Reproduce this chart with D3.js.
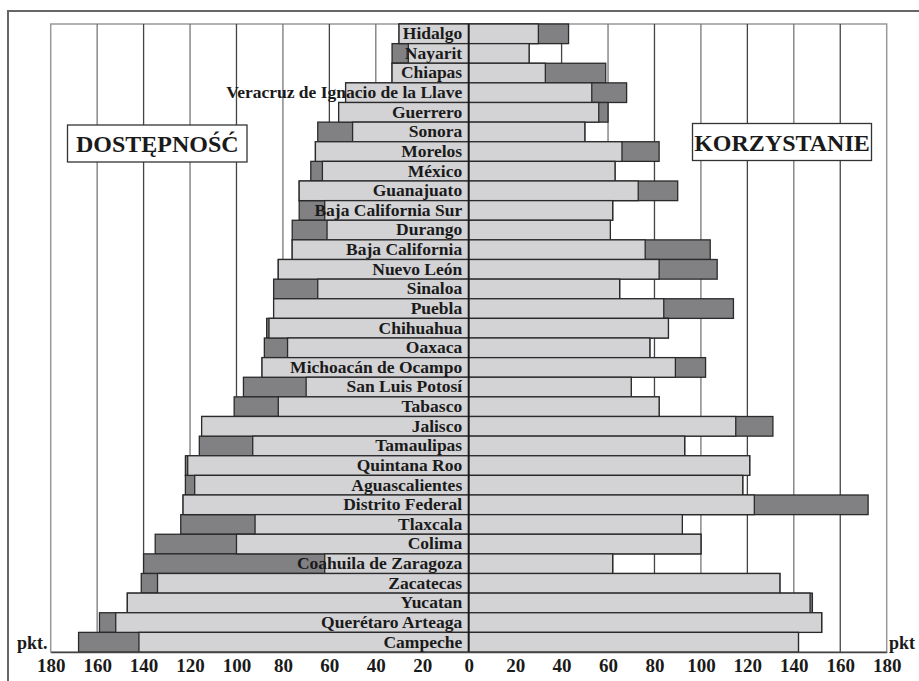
<!DOCTYPE html>
<html>
<head>
<meta charset="utf-8">
<script src="https://cdnjs.cloudflare.com/ajax/libs/d3/7.8.5/d3.min.js"></script>
<style>
    body { margin: 0; background: #fff; }
    text { font-family: "Liberation Serif", "Times New Roman", serif; font-weight: bold; fill: #1a1a1a; }
</style>
</head>
<body>
<div id="chart-area"></div>
<script>
// States, top to bottom
var states = ["Hidalgo", "Nayarit", "Chiapas", "Veracruz de Ignacio de la Llave", "Guerrero",
    "Sonora", "Morelos", "México", "Guanajuato", "Baja California Sur", "Durango",
    "Baja California", "Nuevo León", "Sinaloa", "Puebla", "Chihuahua", "Oaxaca",
    "Michoacán de Ocampo", "San Luis Potosí", "Tabasco", "Jalisco", "Tamaulipas",
    "Quintana Roo", "Aguascalientes", "Distrito Federal", "Tlaxcala", "Colima",
    "Coahuila de Zaragoza", "Zacatecas", "Yucatan", "Querétaro Arteaga", "Campeche"];

// DOSTĘPNOŚĆ (left side), pkt.
var dostepnosc = [30, 33, 33, 53, 56, 65, 66, 68, 73, 73, 76, 76, 82, 84, 84, 87,
    88, 89, 97, 101, 115, 116, 122, 122, 123, 124, 135, 140, 141, 147, 159, 168];

// KORZYSTANIE (right side), pkt.
var korzystanie = [43, 26, 59, 68, 60, 50, 82, 63, 90, 62, 61, 104, 107, 65, 114, 86,
    78, 102, 70, 82, 131, 93, 121, 118, 172, 92, 100, 62, 134, 148, 152, 142];

var ticks = [-180, -160, -140, -120, -100, -80, -60, -40, -20, 0, 20, 40, 60, 80, 100, 120, 140, 160, 180];

var data = states.map(function(s, i) {
    return { state: s, left: dostepnosc[i], right: korzystanie[i] };
});

var width = 919, height = 681;
var plot = { left: 50.7, right: 886.7, top: 24, bottom: 652 };

var svg = d3.select("#chart-area")
    .append("svg")
    .attr("width", width)
    .attr("height", height);

// outer frame (runs off the page on the right and bottom)
svg.append("rect")
    .attr("x", 8).attr("y", 11)
    .attr("width", 1000).attr("height", 1000)
    .attr("fill", "none")
    .attr("stroke", "#666")
    .attr("stroke-width", 2);

// Scales
var x = d3.scaleLinear().domain([-180, 180]).range([plot.left, plot.right]);
var y = d3.scaleBand().domain(states).range([plot.top, plot.bottom]).padding(0);

// plot border
svg.append("rect")
    .attr("x", plot.left).attr("y", plot.top)
    .attr("width", plot.right - plot.left)
    .attr("height", plot.bottom - plot.top)
    .attr("fill", "none")
    .attr("stroke", "#999")
    .attr("stroke-width", 1.5);

// Gridlines
svg.append("g").selectAll("line")
    .data(ticks.filter(function(d){ return Math.abs(d) < 180 && d != 0; }))
    .enter().append("line")
    .attr("x1", function(d){ return x(d); })
    .attr("x2", function(d){ return x(d); })
    .attr("y1", plot.top)
    .attr("y2", plot.bottom)
    .attr("stroke", function(d, i){ return i % 2 ? "#444" : "#777"; })
    .attr("stroke-width", 1.3);

// Dark bars: full value on each side
var bars = svg.append("g");
bars.selectAll(".dark-left")
    .data(data).enter().append("rect")
    .attr("class", "dark-left")
    .attr("x", function(d){ return x(-d.left); })
    .attr("y", function(d){ return y(d.state); })
    .attr("width", function(d){ return x(0) - x(-d.left); })
    .attr("height", y.bandwidth())
    .attr("fill", "#818184")
    .attr("stroke", "#2a2a2a")
    .attr("stroke-width", 1.3);
bars.selectAll(".dark-right")
    .data(data).enter().append("rect")
    .attr("class", "dark-right")
    .attr("x", x(0))
    .attr("y", function(d){ return y(d.state); })
    .attr("width", function(d){ return x(d.right) - x(0); })
    .attr("height", y.bandwidth())
    .attr("fill", "#818184")
    .attr("stroke", "#2a2a2a")
    .attr("stroke-width", 1.3);

// Light bars: the common part (smaller of the two) on both sides
bars.selectAll(".light")
    .data(data).enter().append("rect")
    .attr("class", "light")
    .attr("x", function(d){ return x(-Math.min(d.left, d.right)); })
    .attr("y", function(d){ return y(d.state); })
    .attr("width", function(d){ return 2 * (x(0) - x(-Math.min(d.left, d.right))); })
    .attr("height", y.bandwidth())
    .attr("fill", "#d3d3d5")
    .attr("stroke", "#2a2a2a")
    .attr("stroke-width", 1.3);

// State labels
svg.append("g").selectAll("text")
    .data(data).enter().append("text")
    .attr("x", x(0) - 6.5)
    .attr("y", function(d){ return y(d.state) + y.bandwidth() / 2 + 5.4; })
    .attr("text-anchor", "end")
    .attr("font-size", "17.5px")
    .text(function(d){ return d.state; });

// centre line
svg.append("line")
    .attr("x1", x(0)).attr("x2", x(0))
    .attr("y1", plot.top).attr("y2", plot.bottom)
    .attr("stroke", "#1a1a1a")
    .attr("stroke-width", 2);

// X-axis
var xAxisCall = d3.axisBottom(x)
    .tickValues(ticks)
    .tickSize(0)
    .tickPadding(7)
    .tickFormat(function(d){ return Math.abs(d); });
var xAxis = svg.append("g")
    .attr("class", "x axis")
    .attr("transform", "translate(0," + plot.bottom + ")")
    .call(xAxisCall);
xAxis.select(".domain").attr("stroke", "#444").attr("stroke-width", 1.5);
xAxis.selectAll("text")
    .style("font-family", "'Liberation Serif', serif")
    .style("font-size", "19px")
    .attr("fill", "#1a1a1a");

// unit labels
svg.append("text")
    .attr("x", 17).attr("y", 649)
    .attr("font-size", "18px")
    .text("pkt.");
svg.append("text")
    .attr("x", 889).attr("y", 649)
    .attr("font-size", "18px")
    .text("pkt");

// Side titles
function sideTitle(label, bx, by, bw, bh) {
    svg.append("rect")
        .attr("x", bx).attr("y", by)
        .attr("width", bw).attr("height", bh)
        .attr("fill", "#fff")
        .attr("stroke", "#333")
        .attr("stroke-width", 1.3);
    svg.append("text")
        .attr("x", bx + bw / 2)
        .attr("y", by + bh / 2 + 8.5)
        .attr("text-anchor", "middle")
        .attr("font-size", "24px")
        .text(label);
}
sideTitle("DOSTĘPNOŚĆ", 67.5, 125, 179.5, 37);
sideTitle("KORZYSTANIE", 692.5, 123.5, 179, 37);
</script>
</body>
</html>
